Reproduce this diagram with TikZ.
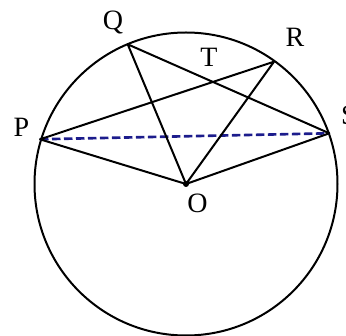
\documentclass[tikz,border=0pt]{standalone}
\usepackage{fontspec}
\setmainfont{Liberation Serif}
\begin{document}
\begin{tikzpicture}[x=1pt,y=-1pt,
  edge/.style={line width=2pt,black},
  chord/.style={line width=2.6pt,color=navy,dash pattern=on 8.5pt off 3.5pt},
  lbl/.style={font=\fontsize{28}{32}\selectfont,inner sep=0pt}]
\definecolor{navy}{RGB}{28,28,140}
\useasboundingbox (0,0) rectangle (346,336);
\coordinate (C) at (186,184);
\coordinate (O) at (186,184);
\coordinate (Q) at (127.7,44.3);
\coordinate (R) at (274,61.7);
\coordinate (P) at (40,139.3);
\coordinate (S) at (329.3,133.3);
\draw[edge] (C) circle (151.5);
\draw[chord] (P) -- (S);
\draw[edge,line join=round] (Q) -- (O) -- (R) -- (P) -- (O) -- (S) -- (Q);
\fill (O) circle (3);
\node[lbl] (lQ) at (113,23) {Q};
\node[lbl] (lR) at (295,37) {R};
\node[lbl] (lT) at (209,57.5) {T};
\node[lbl] (lP) at (21.5,127) {P};
\node[lbl] (lS) at (349,115) {S};
\node[lbl] (lO) at (197.5,203) {O};
\end{tikzpicture}
\end{document}
